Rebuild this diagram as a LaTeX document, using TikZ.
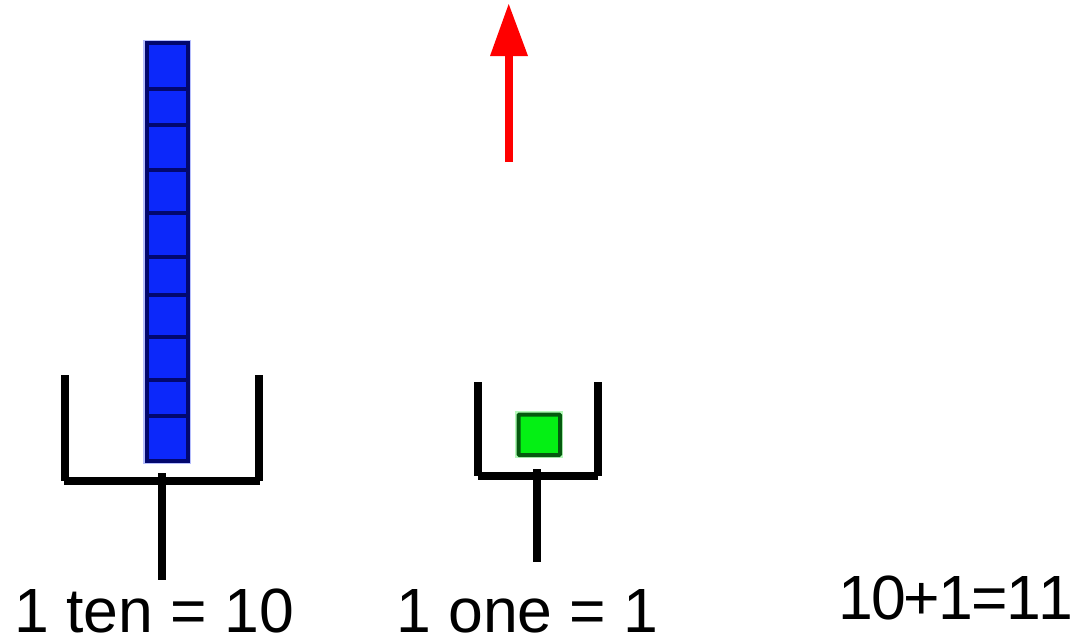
\documentclass[tikz,border=0pt]{standalone}
\usepackage{fontspec}
\setmainfont[Kerning=Off]{Liberation Sans}
\newfontfamily\sumfont[Kerning=Off,LetterSpace=-3.0]{Liberation Sans}
\definecolor{barblue}{RGB}{12,40,250}
\definecolor{bardark}{RGB}{2,8,110}
\definecolor{cubegreen}{RGB}{4,240,20}
\definecolor{cubedark}{RGB}{5,90,15}
\tikzset{
  binline/.style={line width=8pt,black},
  lbl/.style={anchor=base west,inner sep=0pt,font=\fontsize{62.5}{62.5}\selectfont},
  cubeline/.style={line width=4.5pt,bardark}
}
\begin{document}
\begin{tikzpicture}[x=1pt,y=-1pt]
\useasboundingbox (0,0) rectangle (1083,637);
% ten bar
\fill[barblue!30] (143,40) rectangle (191,464);
\fill[barblue,draw=bardark,line width=4pt] (147,43) rectangle (188,461);
\foreach \y in {89,125,170,213,257,295,337,380,416}
  \draw[cubeline] (147,\y) -- (188,\y);
% one cube
\fill[cubegreen!30] (515,411) rectangle (563,458);
\fill[cubegreen,draw=cubedark,line width=4pt,rounded corners=1pt] (518.5,414.5) rectangle (560,455);
% tens bin
\coordinate (tl) at (65,375);
\coordinate (tbl) at (65,481);
\coordinate (tbr) at (259,481);
\coordinate (tr) at (259,375);
\coordinate (tsa) at (162,473);
\coordinate (tsb) at (162,580);
\draw[binline] (tl) -- (tbl);
\draw[binline] (tr) -- (tbr);
\draw[binline] ([xshift=-1pt]tbl) -- ([xshift=1pt]tbr);
\draw[binline] (tsa) -- (tsb);
% ones bin
\coordinate (ol) at (478,382);
\coordinate (obl) at (478,475.5);
\coordinate (obr) at (598,475.5);
\coordinate (or) at (598,382);
\coordinate (osa) at (537,469);
\coordinate (osb) at (537,562);
\draw[binline] (ol) -- (obl);
\draw[binline] (or) -- (obr);
\draw[binline] (obl) -- (obr);
\draw[binline] (osa) -- (osb);
% red arrow
\coordinate (aa) at (509,162);
\coordinate (ab) at (509,54);
\coordinate (ac) at (508.7,4);
\draw[red,line width=8pt] (aa) -- (ab);
\fill[red] (ac) -- (528,56) -- (490,56) -- cycle;
% labels
\node[lbl] (tenlabel) at (14,632) {1 ten = 10};
\node[lbl] (onelabel) at (396,632) {1 one = 1};
\node[lbl,font=\sumfont\fontsize{62.5}{62.5}\selectfont] (sumlabel) at (838,619) {10+1=11};
\end{tikzpicture}
\end{document}
